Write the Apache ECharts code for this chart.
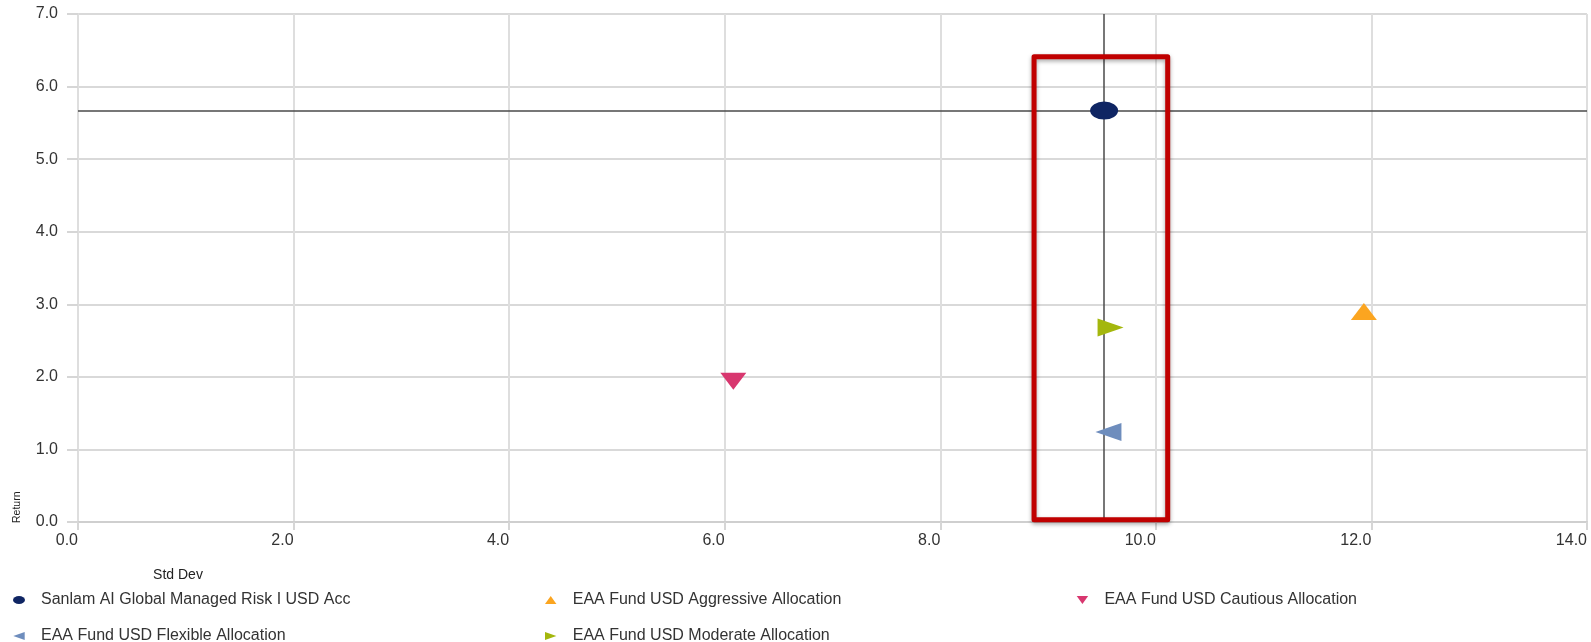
<!DOCTYPE html>
<html>
<head>
<meta charset="utf-8">
<title>Risk / Return</title>
<script src="https://cdn.jsdelivr.net/npm/echarts@6/dist/echarts.min.js"></script>
<style>
  html, body { margin: 0; padding: 0; background: #ffffff; }
  #chart { width: 1591px; height: 642px; }
</style>
</head>
<body>
<div id="chart"></div>
<script>
// Funds and their peer-group categories
const seriesNames = [
  'Sanlam AI Global Managed Risk I USD Acc',
  'EAA Fund USD Aggressive Allocation',
  'EAA Fund USD Cautious Allocation',
  'EAA Fund USD Flexible Allocation',
  'EAA Fund USD Moderate Allocation'
];
// Annualised standard deviation (x) and return (y), %
const stdDev  = [9.52, 11.93, 6.08, 9.56, 9.58];
const returns = [5.67, 2.90, 1.94, 1.24, 2.68];

// Axis ranges and tick step
const xRange = [0, 14];
const yRange = [0, 7];
const xStep = 2;
const yStep = 1;

// Highlight box around the fund and its closest peers: [[x0, y0], [x1, y1]]
const highlightBox = [[8.87, 0.03], [10.11, 6.41]];

// Presentation
const colors = ['#0f2563', '#fba520', '#d8376f', '#6e8dbd', '#a4b70d'];
const symbols = ['circle', 'triangle', 'triangle', 'triangle', 'triangle'];
const rotations = [0, 0, 180, 90, -90];
const sizes = [[28, 18], [26, 17], [26, 17], [18, 26], [18, 26]];
const legendIcons = [
  'path://M0,4 A6,4 0 1,0 12,4 A6,4 0 1,0 0,4 Z',
  'path://M5,0 L10,7 L0,7 Z',
  'path://M0,0 L10,0 L5,7 Z',
  'path://M0,3.5 L10,0 L10,7 Z',
  'path://M0,0 L10,3.5 L0,7 Z'
];

const chart = echarts.init(document.getElementById('chart'), null, { renderer: 'canvas' });

const labelFont = { color: '#333333', fontSize: 15, fontFamily: 'Liberation Sans, Arial, Helvetica, sans-serif' };

const series = seriesNames.map((name, i) => {
  const s = {
    name: name,
    type: 'scatter',
    data: [[stdDev[i], returns[i]]],
    symbol: symbols[i],
    symbolSize: sizes[i],
    symbolRotate: rotations[i],
    itemStyle: { color: colors[i], opacity: 1 },
    z: 5
  };
  if (i === 0) {
    // Crosshair through the fund's own point
    s.markLine = {
      silent: true,
      symbol: 'none',
      label: { show: false },
      lineStyle: { color: '#4a4a4a', width: 1.5, type: 'solid' },
      data: [{ xAxis: stdDev[0] }, { yAxis: returns[0] }],
      z: 3
    };
    s.markArea = {
      silent: true,
      itemStyle: {
        color: 'rgba(0,0,0,0)',
        borderColor: '#c00000',
        borderWidth: 5,
        borderJoin: 'round',
        shadowColor: 'rgba(0,0,0,0.35)',
        shadowBlur: 4,
        shadowOffsetY: 2
      },
      label: { show: false },
      data: [[
        { coord: highlightBox[0] },
        { coord: highlightBox[1] }
      ]],
      z: 4
    };
  }
  return s;
});

chart.setOption({
  animation: false,
  backgroundColor: '#ffffff',
  grid: { left: 78, right: 4, top: 14, bottom: 120, containLabel: false },
  xAxis: {
    type: 'value',
    min: xRange[0], max: xRange[1], interval: xStep,
    axisLine: { show: true, lineStyle: { color: '#cfcfcf', width: 2 } },
    axisTick: { show: true, length: 8, lineStyle: { color: '#d6d6d6', width: 2 } },
    axisLabel: Object.assign({ align: 'right', margin: 11, formatter: v => v.toFixed(1) }, labelFont, { fontSize: 16 }),
    splitLine: { show: true, lineStyle: { color: '#dedede', width: 2 } }
  },
  yAxis: {
    type: 'value',
    min: yRange[0], max: yRange[1], interval: yStep,
    axisLine: { show: true, lineStyle: { color: '#dedede', width: 2 } },
    axisTick: { show: true, length: 11, lineStyle: { color: '#d6d6d6', width: 2 } },
    axisLabel: Object.assign({ margin: 20, formatter: v => v.toFixed(1) }, labelFont, { fontSize: 16 }),
    splitLine: { show: true, lineStyle: { color: '#cccccc', width: 1.5 } }
  },
  legend: {
    left: 8,
    top: 587,
    width: 1580,
    orient: 'horizontal',
    itemWidth: 30,
    itemHeight: 8,
    itemGap: 20,
    selectedMode: false,
    textStyle: {
      color: '#333333',
      fontSize: 16,
      lineHeight: 16,
      width: 484,
      padding: [0, 0, 0, 2],
      fontFamily: 'Liberation Sans, Arial, Helvetica, sans-serif'
    },
    data: seriesNames.map((n, i) => ({ name: n, icon: legendIcons[i] }))
  },
  graphic: [
    {
      type: 'text',
      x: 23, y: 523,
      rotation: Math.PI / 2,
      style: {
        text: 'Return',
        fill: '#222222',
        font: '10.5px Liberation Sans, Arial, sans-serif',
        textAlign: 'left',
        textVerticalAlign: 'bottom'
      }
    },
    {
      type: 'text',
      x: 178, y: 575,
      style: {
        text: 'Std Dev',
        fill: '#222222',
        font: '14px Liberation Sans, Arial, sans-serif',
        textAlign: 'center',
        textVerticalAlign: 'middle'
      }
    }
  ],
  series: series
});
</script>
</body>
</html>
